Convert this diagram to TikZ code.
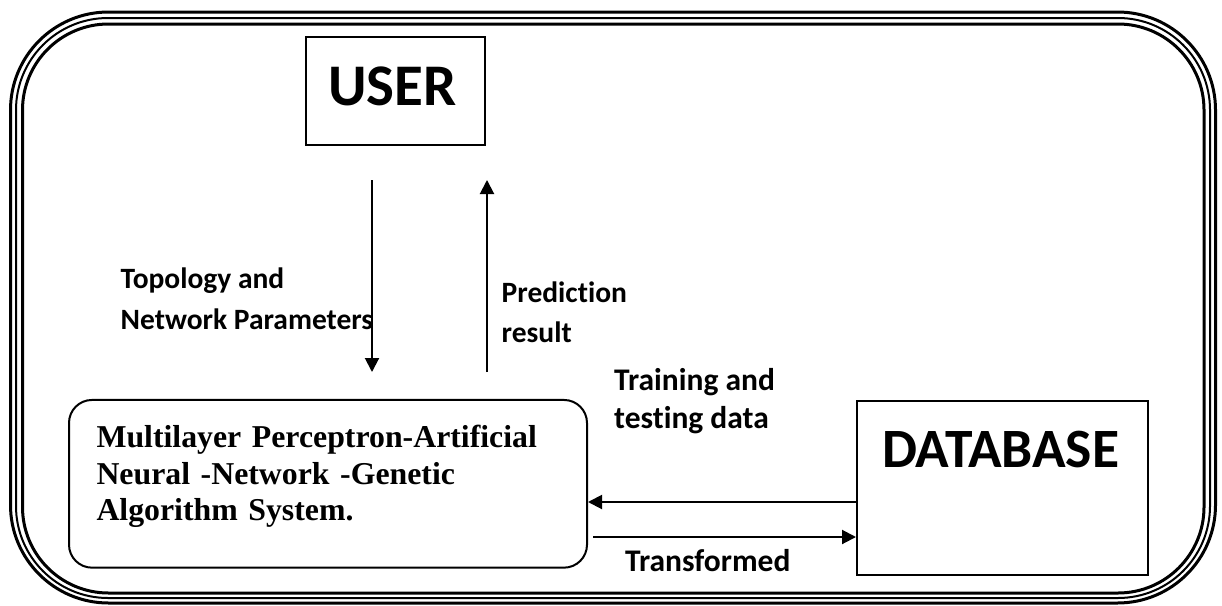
\documentclass[tikz,border=0pt]{standalone}
\usepackage{fontspec}
\setmainfont{Liberation Serif}
\newfontfamily\calibfont[Ligatures=NoCommon]{Carlito}
\usetikzlibrary{arrows.meta,positioning}

\begin{document}
\begin{tikzpicture}[x=1pt,y=-1pt,
    >={Triangle[length=14pt,width=14pt]},
    box/.style={draw, line width=2pt, inner ysep=0pt, align=left},
    lbl/.style={anchor=base west, inner sep=0pt, align=left},
    conn/.style={->, line width=2pt}]
        \useasboundingbox (0,0) rectangle (1222,605);

        % Frame
        \draw[line width=3pt, rounded corners=98pt] (10.5,12) rectangle (1215.5,603);
        \draw[line width=2pt, rounded corners=92pt] (16,18) rectangle (1210,598);
        \draw[line width=3pt, rounded corners=86pt] (22.5,24) rectangle (1204,593);

        % Blocks
        \node[box, inner xsep=22pt, text width=135pt, text height=68pt, text depth=40pt,
            font=\calibfont\bfseries\fontsize{59}{62}\selectfont] (user) at (395.5,91) {USER};
        \node[box, inner xsep=25pt, text width=241pt, text height=66pt, text depth=108pt,
            font=\calibfont\bfseries\fontsize{55.5}{60}\selectfont] (db) at (1002.5,488) {DATABASE};
        \node[box, rounded corners=23pt, inner xsep=27.5pt, text width=463pt, text height=48pt,
            text depth=119.7pt, font=\bfseries\fontsize{31.8}{36.5}\selectfont] (mlp) at (328,483.8)
            {Multilayer Perceptron-Artificial\\Neural -Network -Genetic\\Algorithm System.};

        % Arrow ends
        \coordinate (d1) at (372,180);
        \coordinate (d2) at (372,372);
        \coordinate (u1) at (487,372);
        \coordinate (u2) at (487,180);
        \coordinate (r1) at (593,537);

        % Flows
        \draw[conn] (d1) -- (d2);
        \draw[conn] (u1) -- (u2);
        \draw[conn] (db.west |- 0,502) -- (mlp.east |- 0,502);
        \draw[conn] (r1) -- (db.west |- r1);

        % Labels
        \node[lbl, font=\calibfont\bfseries\fontsize{29.5}{41}\selectfont] (topo) at (120.5,329)
            {Topology and\\Network Parameters};
        \node[lbl, font=\calibfont\bfseries\fontsize{29.5}{40}\selectfont] (pred) at (501.5,342.7)
            {Prediction\\result};
        \node[lbl, font=\calibfont\bfseries\fontsize{31.5}{38}\selectfont] (train) at (614,428)
            {Training and\\testing data};
        \node[lbl, font=\calibfont\bfseries\fontsize{31.5}{38}\selectfont] (trans) at (625,571.7)
            {Transformed};
\end{tikzpicture}
\end{document}
